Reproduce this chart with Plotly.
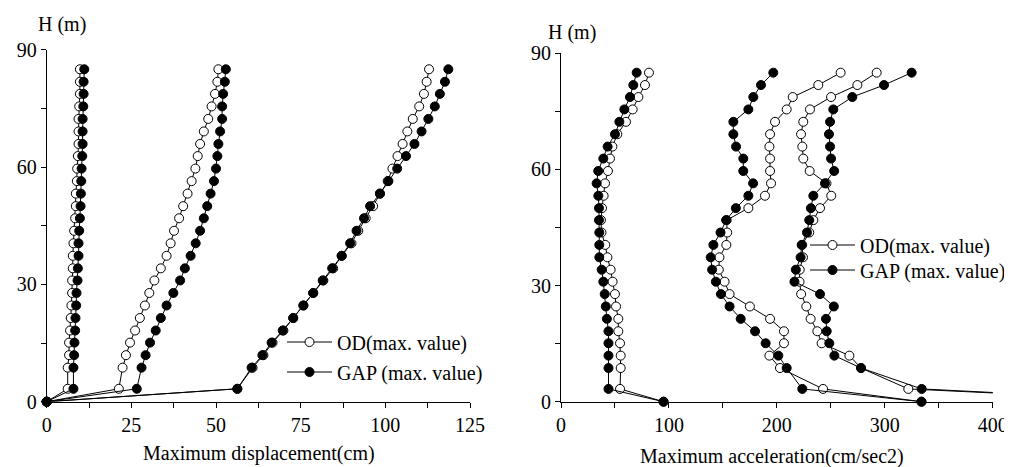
import plotly.graph_objects as go

# Floor heights (m)
H = [0, 3.3, 8.7, 11.9, 15.1, 18.2, 21.4, 24.6, 27.8, 31.0, 34.1, 37.3, 40.5, 43.7,
     46.9, 50.0, 53.2, 56.4, 59.6, 62.8, 65.9, 69.1, 72.3, 75.5, 78.7, 81.8, 85.0]

# ---- Left panel: maximum displacement (cm) ----
disp_od_1 = [0, 6.2, 6.2, 6.6, 6.6, 6.9, 7.1, 7.3, 7.5, 7.5, 7.7, 7.7, 7.9, 8.1,
             8.4, 8.6, 8.6, 8.9, 9.0, 9.2, 9.4, 9.4, 9.4, 9.6, 9.8, 9.8, 9.8]
disp_gap_1 = [0, 7.9, 7.9, 8.1, 8.2, 8.4, 8.5, 8.7, 8.8, 9.1, 9.2, 9.4, 9.4, 9.6,
              9.8, 10.0, 10.1, 10.2, 10.3, 10.5, 10.6, 10.6, 10.6, 10.8, 10.9, 10.9, 11.1]
disp_od_2 = [0, 21.3, 22.4, 23.4, 24.6, 26.1, 27.5, 29.0, 30.3, 31.8, 33.7, 35.4, 36.6, 37.6,
             39.1, 40.3, 41.6, 42.8, 43.9, 44.6, 45.3, 46.4, 47.7, 48.7, 49.7, 50.4, 50.7]
disp_gap_2 = [0, 26.6, 28.0, 29.2, 30.5, 32.2, 33.7, 35.4, 37.4, 39.4, 40.8, 42.5, 44.0, 45.3,
              46.4, 47.4, 48.4, 49.4, 50.0, 50.4, 50.7, 51.2, 51.8, 51.8, 52.1, 52.6, 52.9]
disp_od_3 = [0, 56.3, 60.8, 64.0, 66.7, 69.9, 72.8, 75.8, 78.7, 81.7, 84.6, 87.1, 90.0, 92.0,
             94.2, 96.4, 98.4, 100.7, 102.1, 103.6, 105.1, 106.5, 108.1, 110.0, 111.4, 112.2, 112.9]
disp_gap_3 = [0, 56.3, 60.5, 63.7, 66.4, 69.7, 72.8, 75.8, 78.7, 81.5, 84.3, 87.1, 89.6, 91.5,
              93.7, 95.5, 98.4, 100.9, 103.5, 106.1, 108.6, 110.7, 112.7, 114.6, 116.1, 117.6, 118.6]

# ---- Right panel: maximum acceleration (cm/sec2) ----
acc_od_1 = [95, 54.7, 55.3, 55.3, 54.7, 53.1, 53.1, 51.0, 50.0, 47.8, 46.0, 43.0, 41.0, 37.5,
            37.0, 38.0, 39.5, 40.8, 43.5, 45.4, 47.6, 52.2, 60.2, 66.4, 71.7, 77.8, 81.5]
acc_gap_1 = [95, 44.0, 44.0, 44.0, 44.0, 44.0, 42.5, 41.5, 40.5, 39.2, 37.7, 35.5, 35.5, 35.5,
             35.2, 35.2, 34.6, 33.0, 34.5, 39.2, 43.2, 50.0, 54.1, 58.7, 63.9, 67.0, 70.1]
acc_od_2 = [334, 242.8, 202.9, 193.1, 206.6, 206.6, 193.7, 175.0, 156.2, 151.6, 146.2, 146.8, 153.2, 154.0,
            153.5, 173.6, 189.0, 194.6, 193.7, 193.7, 193.1, 193.7, 198.3, 209.1, 214.7, 238.4, 259.1]
acc_gap_2 = [334, 223.6, 209.1, 201.4, 189.6, 179.8, 166.5, 156.2, 148.2, 143.5, 140.0, 138.7, 141.2, 147.8,
             153.0, 162.0, 173.6, 178.0, 168.9, 168.9, 162.2, 159.7, 159.7, 173.6, 178.2, 185.3, 196.7]
acc_od_3 = [570, 321.8, 278.0, 267.2, 241.5, 237.5, 231.3, 227.3, 222.5, 221.0, 221.2, 224.2, 223.5, 230.0,
            233.8, 240.0, 250.4, 246.0, 230.4, 224.5, 223.6, 222.4, 224.5, 230.7, 250.2, 274.6, 292.5]
acc_gap_3 = [570, 334.2, 278.0, 253.3, 248.6, 246.2, 245.5, 252.8, 240.0, 216.3, 217.6, 222.0, 223.0, 227.9,
             230.0, 231.5, 233.8, 244.6, 253.1, 250.2, 249.3, 248.3, 249.3, 252.3, 269.9, 299.3, 324.9]

disp_ticks = [0, 25, 50, 75, 100, 125]
acc_ticks = [0, 100, 200, 300, 400]
h_ticks = [0, 30, 60, 90]

LEGEND_OD = "OD(max. value)"
LEGEND_GAP = "GAP (max. value)"

FONT = "Liberation Serif, Times New Roman, serif"
# page is 1012x467; the html body has an 8px margin, so the figure is 8px smaller
OFF = 8
W, HT = 1012 - OFF, 467 - OFF

fig = go.Figure()

def add(xs, ys, filled, xa, ya, legend=None, name="", clip=False):
    fig.add_trace(go.Scatter(
        x=xs, y=ys, mode="lines+markers", name=name,
        xaxis=xa, yaxis=ya,
        line=dict(color="black", width=1),
        marker=dict(symbol="circle", size=9,
                    color="black" if filled else "white",
                    line=dict(color="black", width=1)),
        showlegend=legend is not None,
        legend=legend if legend else "legend",
        cliponaxis=clip,
    ))

# left panel: OD first, then GAP on top
add(disp_od_1, H, False, "x", "y", legend="legend", name=LEGEND_OD)
add(disp_od_2, H, False, "x", "y")
add(disp_od_3, H, False, "x", "y")
add(disp_gap_1, H, True, "x", "y", legend="legend2", name=LEGEND_GAP)
add(disp_gap_2, H, True, "x", "y")
add(disp_gap_3, H, True, "x", "y")

# right panel
add(acc_od_1, H, False, "x2", "y2", legend="legend3", name=LEGEND_OD)
add(acc_od_2, H, False, "x2", "y2")
add(acc_od_3, H, False, "x2", "y2", clip=True)
add(acc_gap_1, H, True, "x2", "y2", legend="legend4", name=LEGEND_GAP)
add(acc_gap_2, H, True, "x2", "y2")
add(acc_gap_3, H, True, "x2", "y2", clip=True)

def px(x):
    return (x - OFF) / W

def py(y):
    return 1 - (y - OFF) / HT

axis_common = dict(
    showline=True, linecolor="black", linewidth=1, mirror=False,
    showgrid=False, zeroline=False, automargin=False,
    ticks="outside", ticklen=5, tickwidth=1, tickcolor="black",
    tickfont=dict(family=FONT, size=20, color="black"),
    layer="below traces",
)

leg_common = dict(font=dict(family=FONT, size=20, color="black"),
                  bgcolor="rgba(0,0,0,0)", borderwidth=0,
                  xanchor="left", yanchor="middle", itemwidth=45)

fig.update_layout(
    width=W, height=HT,
    margin=dict(l=0, r=0, t=0, b=0, autoexpand=False),
    paper_bgcolor="white", plot_bgcolor="white",
    font=dict(family=FONT, size=20, color="black"),
    xaxis=dict(domain=[px(46.7), px(470)], range=[0, 125], anchor="y",
               tickvals=disp_ticks,
               minor=dict(dtick=12.5, ticks="outside", ticklen=5, tickcolor="black", showgrid=False),
               **axis_common),
    yaxis=dict(domain=[py(401.7), py(49.7)], range=[0, 90], anchor="x",
               tickvals=h_ticks,
               minor=dict(dtick=15, ticks="outside", ticklen=5, tickcolor="black", showgrid=False),
               **axis_common),
    xaxis2=dict(domain=[px(561), px(992.7)], range=[0, 400], anchor="y2",
                tickvals=acc_ticks,
                minor=dict(dtick=50, ticks="outside", ticklen=5, tickcolor="black", showgrid=False),
                **axis_common),
    yaxis2=dict(domain=[py(401.7), py(53.3)], range=[0, 90], anchor="x2",
                tickvals=h_ticks,
                minor=dict(dtick=15, ticks="outside", ticklen=5, tickcolor="black", showgrid=False),
                **axis_common),
    legend=dict(x=px(282), y=py(342), **leg_common),
    legend2=dict(x=px(282), y=py(372), **leg_common),
    legend3=dict(x=px(805), y=py(245), **leg_common),
    legend4=dict(x=px(805), y=py(270), **leg_common),
    annotations=[
        dict(text="H (m)", x=px(61.5), y=py(25), xref="paper", yref="paper",
             showarrow=False, xanchor="center", yanchor="middle",
             font=dict(family=FONT, size=20, color="black")),
        dict(text="H (m)", x=px(571.7), y=py(32), xref="paper", yref="paper",
             showarrow=False, xanchor="center", yanchor="middle",
             font=dict(family=FONT, size=20, color="black")),
        dict(text="Maximum displacement(cm)", x=px(259), y=py(453), xref="paper", yref="paper",
             showarrow=False, xanchor="center", yanchor="middle",
             font=dict(family=FONT, size=20, color="black")),
        dict(text="Maximum acceleration(cm/sec2)", x=px(771.7), y=py(456), xref="paper", yref="paper",
             showarrow=False, xanchor="center", yanchor="middle",
             font=dict(family=FONT, size=20, color="black")),
    ],
)

fig.write_html("out.html")
